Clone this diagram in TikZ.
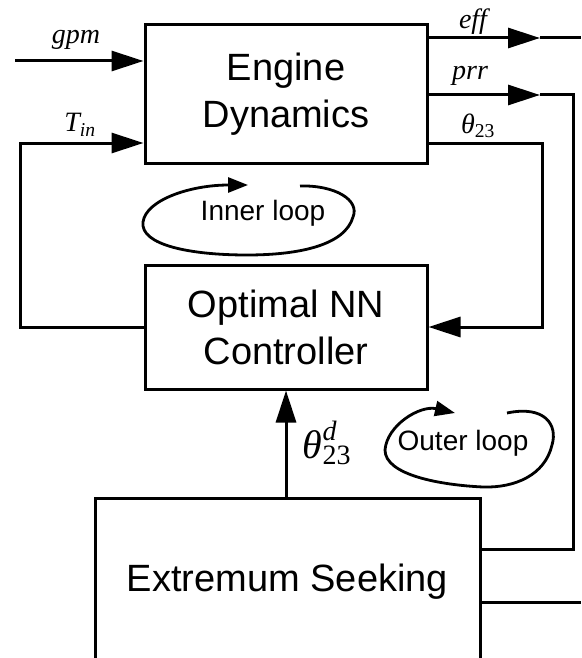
\documentclass[tikz,border=0pt]{standalone}
\usepackage{amsmath}
\usepackage{fontspec}
\setmainfont{Liberation Serif}
\setsansfont{Liberation Sans}
\usetikzlibrary{arrows.meta}

\begin{document}
\begin{tikzpicture}[x=1pt, y=-1pt, line width=3pt,
  block/.style={draw, line width=3pt, align=center, font=\sffamily\fontsize{38}{47}\selectfont},
  sig/.style={font=\itshape\fontsize{28}{30}\selectfont},
  arr/.style={-{Triangle[length=32pt,width=20pt]}},
  looptxt/.style={font=\sffamily\fontsize{28}{30}\selectfont},
  loopline/.style={line width=2.8pt, -{Triangle[length=20pt,width=15pt]}}]
  \useasboundingbox (0,0) rectangle (581,658);
  \clip (0,0) rectangle (581,658);

  % blocks
  \node[block, minimum width=282pt, minimum height=138pt] (eng) at (286,94) {Engine\\Dynamics};
  \node[block, minimum width=282pt, minimum height=124pt] (ctrl) at (286,327) {Optimal NN\\Controller};
  \node[block, minimum width=385pt, minimum height=168pt] (es) at (287.5,582) {Extremum Seeking};

  % corner points
  \coordinate (gpmin) at (15,61);
  \coordinate (tl) at (20,143);
  \coordinate (effa) at (540,38);
  \coordinate (effout) at (581,38);
  \coordinate (prra) at (540,95);
  \coordinate (prrc) at (573,95);
  \coordinate (prrd) at (573,549);
  \coordinate (thc) at (542,143);
  \coordinate (esout) at (581,602);

  % signals
  \draw[arr] (gpmin) -- (gpmin -| eng.west);
  \draw[arr] (ctrl.west) -| (tl) -- (tl -| eng.west);
  \draw[arr] (eng.east |- effa) -- (effa);
  \draw (effa) -- (effout);
  \draw[arr] (eng.east |- prra) -- (prra);
  \draw (prra) -- (prrc) -- (prrd) -- (prrd -| es.east);
  \draw[arr] (eng.east |- thc) -- (thc) |- (ctrl.east);
  \draw[arr] (ctrl.south |- es.north) -- (ctrl.south);
  \draw (es.east |- esout) -- (esout);

  % labels
  \node[sig] (gpm) at (76,40) {gpm};
  \node[sig] (tin) at (80,125) {T\textsubscript{\textit{in}}};
  \node[sig] (eff) at (473,22) {eff};
  \node[sig] (prr) at (470,76) {prr};
  \node[sig] (th) at (478,126) {θ\textsubscript{\textup{23}}};
  \node[font=\fontsize{40}{42}\selectfont] (thd) at (327,443) {$\textit{θ}^{\textit{d}}_{\textup{23}}$};

  % loops
  \node[looptxt] (inner) at (263,213) {Inner loop};
  \draw[loopline] (300,186) .. controls (335,185) and (360,200) .. (353,217)
    .. controls (345,245) and (300,255) .. (247,255)
    .. controls (190,255) and (140,245) .. (143,222)
    .. controls (146,200) and (190,185) .. (248,185);
  \node[looptxt] (outer) at (463,443) {Outer loop};
  \draw[loopline] (507,413) .. controls (545,405) and (558,425) .. (552,445)
    .. controls (545,475) and (515,488) .. (483,487)
    .. controls (440,485) and (385,475) .. (385,450)
    .. controls (387,425) and (420,405) .. (455,413);
\end{tikzpicture}
\end{document}
